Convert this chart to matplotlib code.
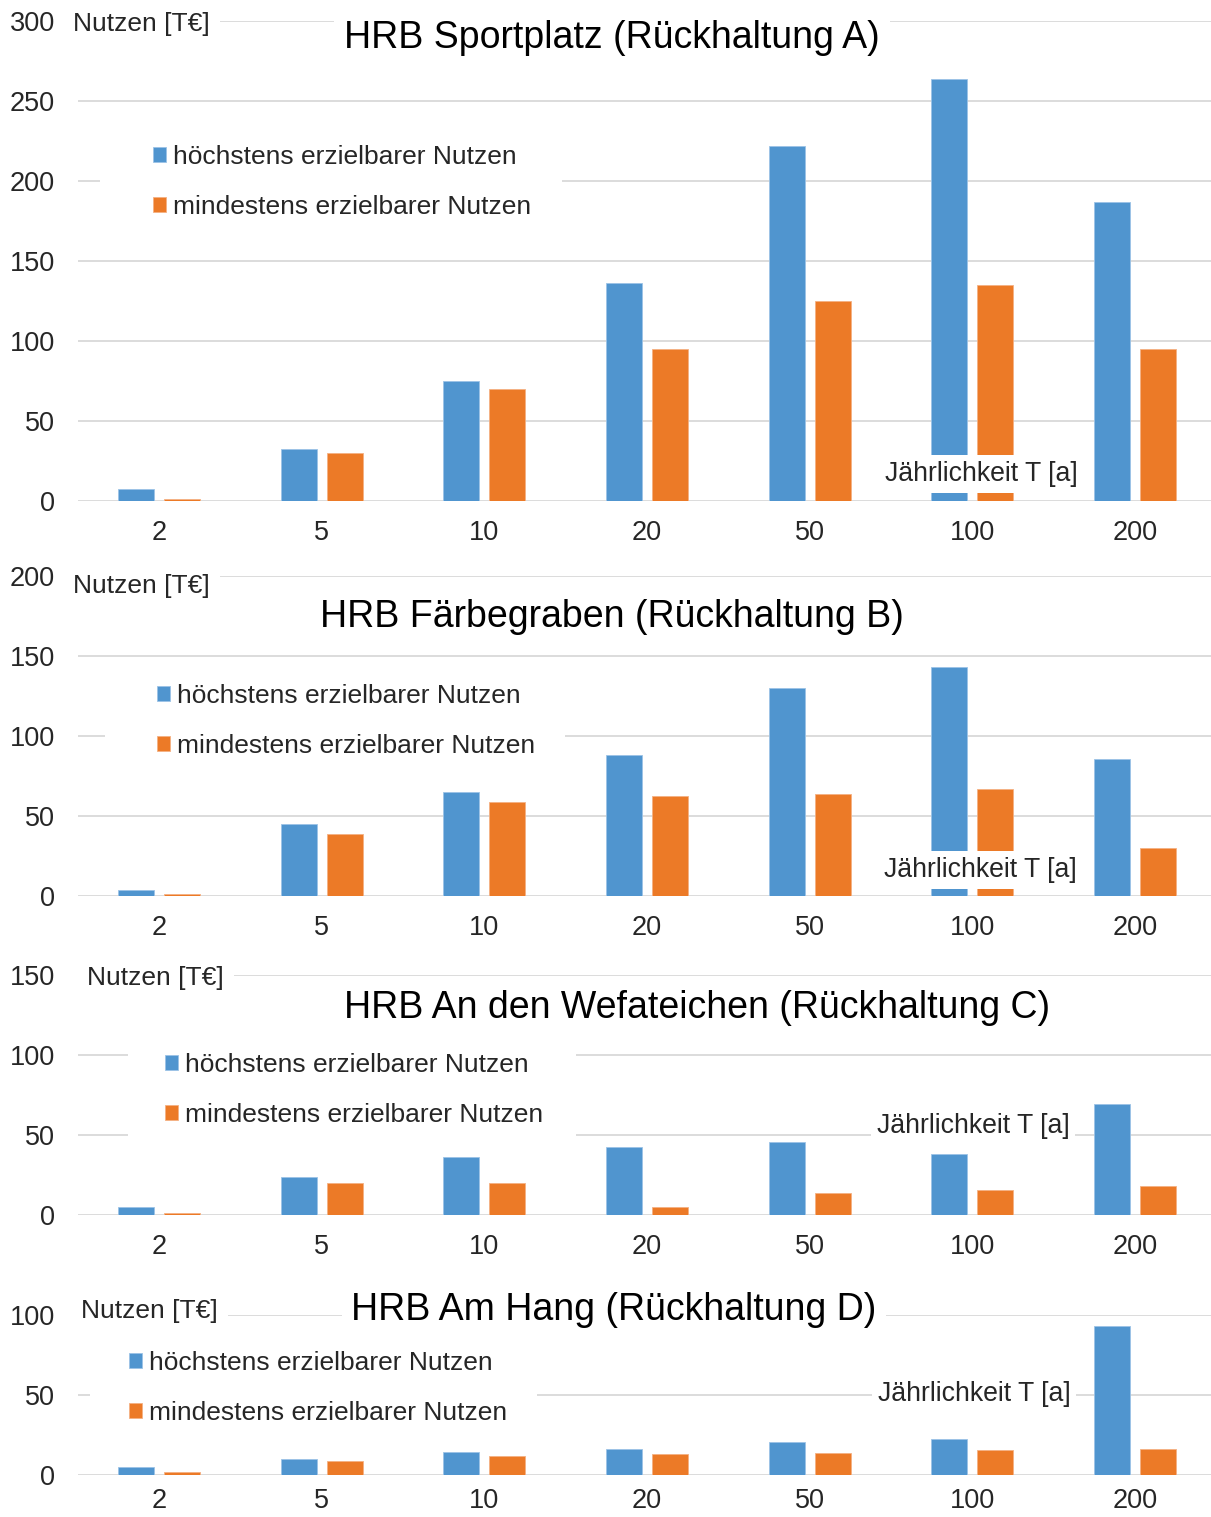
import numpy as np
import matplotlib
matplotlib.use("Agg")
import matplotlib.pyplot as plt
from matplotlib.patches import Rectangle

plt.rcParams['font.family'] = ['Liberation Sans', 'DejaVu Sans']

# ---- data -------------------------------------------------------------
categories = ['2', '5', '10', '20', '50', '100', '200']

titles = ['HRB Sportplatz (Rückhaltung A)',
          'HRB Färbegraben (Rückhaltung B)',
          'HRB An den Wefateichen (Rückhaltung C)',
          'HRB Am Hang (Rückhaltung D)']

max_A = [7.5, 32.5, 75, 136, 222, 264, 187]
min_A = [1.2, 30, 70, 95, 125, 135, 95]

max_B = [3.8, 45, 65, 88, 130, 143, 85.5]
min_B = [1.2, 39, 59, 62.5, 64, 67, 30]

max_C = [5, 24, 36, 42.7, 45.5, 38, 69.4]
min_C = [1.2, 20, 20, 5.2, 14, 15.4, 18]

max_D = [5, 10, 14.4, 16.5, 20.6, 22.7, 93]
min_D = [1.9, 9, 12, 13, 14, 15.6, 16.5]

y_max = [300, 200, 150, 100]

label_max = 'höchstens erzielbarer Nutzen'
label_min = 'mindestens erzielbarer Nutzen'
y_label = 'Nutzen [T€]'
x_label = 'Jährlichkeit T [a]'

series_max = [max_A, max_B, max_C, max_D]
series_min = [min_A, min_B, min_C, min_D]

# ---- layout -----------------------------------------------------------
W, H = 1211, 1517
BLUE = '#5095CF'
ORANGE = '#EC7A27'
GRID = '#d9d9d9'
TXT = '#262626'

def fx(x):
    return x / W

def fy(y):
    return 1 - y / H

fig = plt.figure(figsize=(W / 100, H / 100), dpi=100)

# per-panel pixel geometry: axes top/bottom, text anchors and white boxes
panels = [
    dict(top=21, bottom=501, ylab=(73, 24), title=(612, 38),
         leg=(153, 182), legbox=(100, 125, 562, 240),
         xlab=(885, 474), xpad=14),
    dict(top=576, bottom=896, ylab=(73, 586), title=(612, 617),
         leg=(157, 721), legbox=(105, 672, 565, 768),
         xlab=(884, 870), xpad=14),
    dict(top=975, bottom=1215, ylab=(87, 978), title=(697, 1008),
         leg=(165, 1090), legbox=(128, 1040, 576, 1145),
         xlab=(877, 1126), xpad=14),
    dict(top=1315, bottom=1475, ylab=(81, 1311), title=(614, 1310),
         leg=(129, 1388), legbox=(90, 1338, 537, 1432),
         xlab=(878, 1394), xpad=9),
]

x = np.arange(len(categories))
bw = 0.221
off = 0.1415

for i, p in enumerate(panels):
    ax = fig.add_axes([fx(78), fy(p['bottom']), fx(1138),
                       (p['bottom'] - p['top']) / H])
    b1 = ax.bar(x - off, series_max[i], bw, color=BLUE, edgecolor='#9cc3e6',
                linewidth=0.6, zorder=2, label=label_max)
    b2 = ax.bar(x + off, series_min[i], bw, color=ORANGE, edgecolor='#f4b183',
                linewidth=0.6, zorder=2, label=label_min)

    ax.set_xlim(-0.5, len(categories) - 0.5)
    ax.set_ylim(0, y_max[i])
    ax.set_yticks(np.arange(0, y_max[i] + 1, 50))
    ax.set_xticks(x)
    ax.set_xticklabels(categories)
    ax.tick_params(axis='both', length=0, labelsize=19.5, colors=TXT)
    ax.tick_params(axis='y', pad=16.5)
    ax.tick_params(axis='x', pad=p['xpad'])
    for s in ax.spines.values():
        s.set_visible(False)
    ax.set_axisbelow(True)
    ax.yaxis.grid(True, color=GRID, linewidth=1.3)
    ax.patch.set_alpha(0)

    # white area behind the legend
    lx0, ly0, lx1, ly1 = p['legbox']
    ax.add_patch(Rectangle((fx(lx0), fy(ly1)), fx(lx1 - lx0), (ly1 - ly0) / H,
                           transform=fig.transFigure, facecolor='white',
                           edgecolor='none', zorder=3, clip_on=False))

    leg = ax.legend(handles=[b1, b2], loc='center left',
                    bbox_to_anchor=(fx(p['leg'][0]), fy(p['leg'][1])),
                    bbox_transform=fig.transFigure, frameon=False,
                    borderpad=0, borderaxespad=0, handlelength=0.48,
                    handleheight=0.48, handletextpad=0.27,
                    labelspacing=0.98, fontsize=19)
    for t in leg.get_texts():
        t.set_color(TXT)
    leg.set_zorder(5)

    ax.text(fx(p['ylab'][0]), fy(p['ylab'][1]), y_label,
            transform=fig.transFigure, ha='left', va='center',
            fontsize=19, color=TXT, zorder=6, clip_on=False,
            bbox=dict(facecolor='white', edgecolor='none', pad=7))

    ax.text(fx(p['title'][0]), fy(p['title'][1]), titles[i],
            transform=fig.transFigure, ha='center', va='center',
            fontsize=27, color='black', zorder=6, clip_on=False,
            bbox=dict(facecolor='white', edgecolor='none', pad=7))

    ax.text(fx(p['xlab'][0]), fy(p['xlab'][1]), x_label,
            transform=fig.transFigure, ha='left', va='center',
            fontsize=19.2, color=TXT, zorder=6, clip_on=False,
            bbox=dict(facecolor='white', edgecolor='none', pad=4))

fig.savefig('out.png', dpi=100, facecolor='white')
